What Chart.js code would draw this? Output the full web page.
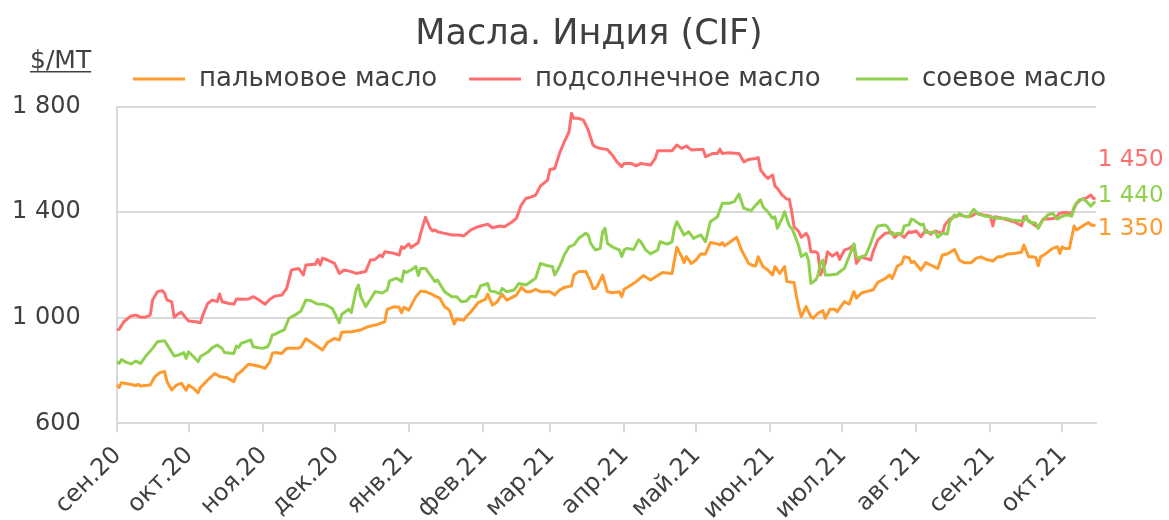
<!DOCTYPE html>
<html lang="ru">
<head>
<meta charset="UTF-8">
<title>Масла. Индия (CIF)</title>
<script src="https://cdn.jsdelivr.net/npm/chart.js"></script>
<style>
  body { margin: 0; background: #fff; }
</style>
</head>
<body>
<canvas id="oilChart" width="1169" height="520"></canvas>
<script>
// x = days since 01.09.2020
const monthStarts = [0, 30, 61, 91, 122, 153, 181, 212, 242, 273, 303, 334, 365, 395];
const monthLabels = ['сен.20', 'окт.20', 'ноя.20', 'дек.20', 'янв.21', 'фев.21', 'мар.21',
                     'апр.21', 'май.21', 'июн.21', 'июл.21', 'авг.21', 'сен.21', 'окт.21'];
const lastDay = 409;

const seriesNames = ['пальмовое масло', 'подсолнечное масло', 'соевое масло'];

const palmDays = [0,1,2,5,8,9,10,14,16,18,20,21,23,25,27,29,30,32,34,35,38,41,43,46,49,50,52,55,57,60,62,64,65,66,
  69,71,76,77,79,81,84,86,88,91,93,94,98,102,105,109,112,113,116,118,119,120,122,125,127,129,132,133,
  135,137,139,141,142,145,146,148,151,154,155,157,159,161,163,167,169,171,173,175,177,181,183,185,187,190,191,193,196,198,199,200,
  201,203,205,207,210,211,212,215,217,220,223,226,228,232,234,236,237,238,240,242,244,246,248,251,252,253,254,256,259,261,264,266,267,
  268,270,272,274,275,277,279,280,283,284,285,286,288,290,291,293,295,296,298,300,301,304,306,308,309,311,313,316,318,321,323,324,326,328,329,331,332,333,
  336,338,340,343,345,347,350,352,354,357,359,361,363,366,368,370,372,375,378,379,381,383,384,385,386,388,391,393,394,395,396,398,400,401,403,406,407,409];
const palmVals = [745,736,754,749,743,748,741,745,777,792,796,758,726,745,752,726,745,733,716,736,764,789,777,773,758,783,796,824,821,815,808,834,865,868,
  865,884,884,890,920,909,890,878,906,922,916,945,947,954,966,975,985,1032,1042,1040,1019,1040,1029,1080,1101,1099,1088,1082,
  1074,1042,1029,976,995,991,1004,1023,1057,1070,1090,1048,1061,1089,1067,1086,1115,1099,1099,1108,1099,1099,1086,1105,1115,1121,1162,1175,1175,1137,1111,1111,
  1124,1162,1099,1095,1099,1080,1108,1124,1137,1160,1143,1160,1172,1168,1267,1232,1209,1232,1206,1219,1242,1242,1285,1280,1276,1285,1273,1285,1305,1257,1206,1197,1197,
  1231,1194,1181,1162,1194,1168,1194,1137,1134,1080,1036,1004,1042,1004,998,1017,1027,998,1032,1032,1023,1061,1052,1099,1074,1093,1099,1105,1134,1148,1162,1149,1194,1206,1231,1228,1209,1214,
  1181,1209,1200,1187,1238,1242,1259,1219,1209,1209,1225,1231,1222,1215,1231,1231,1242,1244,1248,1276,1231,1231,1228,1197,1231,1242,1263,1269,1244,1269,1263,1263,1348,1333,1345,1361,1352,1350];

const sunDays = [0,1,3,6,8,10,12,14,15,17,19,20,21,23,24,26,27,29,30,33,35,36,38,40,42,43,44,47,49,50,52,55,57,59,62,64,66,
  69,71,73,76,77,78,79,83,84,85,86,88,91,93,95,98,100,104,106,108,110,111,112,115,118,119,120,122,123,126,127,129,131,132,133,
  134,137,140,143,145,148,151,155,157,160,162,165,167,169,171,173,175,177,180,181,183,185,187,189,190,191,193,195,197,199,200,
  202,205,207,209,211,212,215,217,219,223,225,226,232,234,236,238,240,243,245,246,249,251,252,253,255,260,262,264,267,
  268,269,271,272,274,275,276,278,280,281,282,283,285,286,288,289,290,292,293,294,296,297,299,301,302,304,306,308,309,311,315,316,318,321,324,325,327,329,331,332,333,
  334,336,338,340,342,345,346,348,350,352,355,357,359,362,365,366,367,370,372,375,378,379,382,385,387,389,392,394,396,399,401,403,405,407,408,409];
const sunVals = [954,956,985,1007,1010,1002,1002,1010,1067,1099,1103,1093,1067,1061,1002,1017,1021,998,988,985,981,1010,1054,1067,1061,1090,1061,1054,1052,1071,1070,1071,1080,1070,1051,1070,1082,
  1086,1111,1181,1187,1175,1162,1200,1203,1221,1200,1226,1219,1206,1168,1181,1175,1168,1175,1219,1221,1238,1231,1250,1246,1238,1269,1263,1280,1266,1285,1320,1381,1339,1329,1333,
  1326,1320,1314,1314,1310,1333,1345,1355,1341,1348,1345,1362,1377,1427,1453,1457,1465,1499,1522,1562,1566,1623,1667,1705,1775,1756,1756,1749,1711,1655,1648,
  1642,1638,1617,1591,1573,1585,1585,1576,1585,1579,1604,1633,1633,1655,1642,1651,1636,1638,1638,1610,1623,1623,1639,1623,1625,1623,1591,1600,1604,
  1607,1560,1537,1528,1541,1499,1490,1465,1450,1449,1402,1345,1326,1305,1320,1305,1250,1250,1244,1162,1206,1250,1234,1246,1221,1256,1263,1276,1206,1231,1219,1250,1295,1320,1323,1305,1320,1305,1326,1323,1326,
  1329,1307,1333,1317,1329,1320,1352,1374,1383,1390,1383,1385,1396,1390,1385,1348,1383,1377,1371,1364,1349,1383,1361,1341,1374,1374,1377,1396,1399,1396,1434,1449,1453,1465,1453,1450];

const soyDays = [0,1,2,4,6,8,10,12,15,17,20,22,24,26,28,29,30,32,34,35,38,40,42,44,45,49,50,51,52,56,57,61,63,64,65,66,
  69,70,72,75,77,79,81,84,87,90,91,93,94,97,98,100,101,102,104,106,108,111,113,114,117,119,120,121,123,125,126,127,129,131,133,
  134,137,140,142,144,146,148,150,152,155,156,158,160,161,163,166,168,171,175,177,180,182,183,185,187,189,191,193,196,197,198,200,
  202,203,204,205,207,210,211,212,213,216,218,219,221,223,226,227,230,232,233,234,237,239,241,244,246,247,248,251,253,256,258,260,261,262,265,267,
  269,270,272,274,275,276,278,279,281,282,283,285,286,288,289,290,292,293,294,295,296,298,301,303,304,306,308,309,310,313,315,317,318,321,322,324,326,328,329,331,332,333,
  334,336,337,338,340,342,343,345,347,348,350,351,352,354,356,358,360,363,365,368,371,374,377,379,380,381,384,385,387,389,391,393,395,397,399,400,402,404,405,407,408,409];
const soyVals = [834,827,842,831,825,836,827,853,884,909,913,884,855,859,868,846,871,853,834,853,869,887,897,884,868,865,893,888,903,916,890,884,890,906,935,937,
  950,954,998,1013,1026,1067,1065,1052,1050,1036,1019,981,1013,1032,1019,1105,1124,1080,1042,1070,1099,1094,1105,1140,1150,1137,1178,1172,1181,1194,1160,1187,1187,1162,1137,
  1143,1099,1080,1080,1061,1063,1082,1080,1121,1130,1101,1099,1090,1111,1099,1105,1130,1124,1150,1206,1197,1194,1162,1194,1238,1269,1276,1301,1320,1314,1282,1257,
  1263,1326,1339,1282,1269,1257,1232,1257,1263,1259,1295,1288,1257,1242,1257,1288,1279,1288,1339,1364,1314,1326,1301,1314,1288,1326,1364,1383,1434,1434,1440,1469,1440,1415,1406,1427,
  1446,1421,1402,1377,1383,1339,1377,1402,1348,1339,1320,1269,1232,1244,1219,1130,1143,1162,1206,1219,1162,1162,1166,1181,1187,1232,1280,1232,1225,1238,1282,1333,1348,1352,1345,1314,1320,1317,1348,1352,1374,1371,
  1364,1352,1355,1323,1323,1326,1305,1320,1317,1364,1390,1383,1396,1385,1383,1411,1393,1385,1383,1377,1377,1371,1368,1368,1385,1364,1358,1339,1371,1390,1396,1374,1385,1390,1385,1421,1446,1449,1443,1423,1434,1440];

const textColor = '#404040';
const gridColor = '#d9d9d9';
const lineColors = ['#ff9a2e', '#ff6e6e', '#8fd14f'];
const fontFamily = "'DejaVu Sans', 'Noto Sans', sans-serif";

Chart.defaults.font.family = fontFamily;
Chart.defaults.color = textColor;

function toPoints(days, vals) {
    return days.map((d, i) => ({ x: d, y: vals[i] }));
}

function spaced(v) {
    return String(v).replace(/\B(?=(\d{3})+(?!\d))/g, ' ');
}

// title, legend, unit caption and end-of-line values
const overlay = {
    id: 'overlay',
    afterDraw(chart) {
        const ctx = chart.ctx;
        const area = chart.chartArea;
        ctx.save();
        ctx.textBaseline = 'alphabetic';

        ctx.font = '35px ' + fontFamily;
        ctx.fillStyle = textColor;
        ctx.textAlign = 'center';
        ctx.fillText('Масла. Индия (CIF)', 589, 44);

        ctx.textAlign = 'left';
        ctx.font = '25px ' + fontFamily;
        ctx.fillText('$/MT', 30, 68);
        ctx.fillRect(30, 71, ctx.measureText('$/MT').width, 1.5);

        const legendX = [133, 469, 856];
        ctx.font = '26px ' + fontFamily;
        seriesNames.forEach((name, i) => {
            ctx.fillStyle = lineColors[i];
            ctx.fillRect(legendX[i], 77.5, 52, 3);
            ctx.fillStyle = textColor;
            ctx.fillText(name, legendX[i] + 66, 86);
        });

        const shift = [10, -33, 0];
        ctx.font = '23px ' + fontFamily;
        chart.data.datasets.forEach((ds, i) => {
            const pts = chart.getDatasetMeta(i).data;
            const last = pts[pts.length - 1];
            ctx.fillStyle = lineColors[i];
            ctx.fillText(spaced(ds.data[ds.data.length - 1].y), area.right + 2, last.y + shift[i]);
        });
        ctx.restore();
    }
};

new Chart(document.getElementById('oilChart'), {
    type: 'line',
    data: {
        datasets: [
            { label: seriesNames[0], data: toPoints(palmDays, palmVals), borderColor: lineColors[0], order: 2 },
            { label: seriesNames[1], data: toPoints(sunDays, sunVals), borderColor: lineColors[1], order: 1 },
            { label: seriesNames[2], data: toPoints(soyDays, soyVals), borderColor: lineColors[2], order: 0 }
        ]
    },
    options: {
        responsive: false,
        animation: false,
        devicePixelRatio: 1,
        layout: { padding: { left: 0, right: 73.3, top: 106.7, bottom: 0 } },
        elements: {
            line: { borderWidth: 3, tension: 0, borderJoinStyle: 'round' },
            point: { radius: 0 }
        },
        plugins: {
            legend: { display: false },
            tooltip: { enabled: false },
            title: { display: false }
        },
        scales: {
            x: {
                type: 'linear',
                min: 0,
                max: lastDay,
                afterBuildTicks: (scale) => {
                    scale.ticks = monthStarts.map(v => ({ value: v }));
                },
                afterFit: (scale) => { scale.height = 96.7; },
                ticks: {
                    autoSkip: false,
                    maxRotation: 45,
                    minRotation: 45,
                    padding: 9,
                    labelOffset: 1,
                    font: { size: 24 },
                    callback: (v) => monthLabels[monthStarts.indexOf(v)]
                },
                grid: { drawOnChartArea: false, color: gridColor, lineWidth: 2, tickLength: 9 },
                border: { color: gridColor, width: 2 }
            },
            y: {
                min: 600,
                max: 1800,
                afterFit: (scale) => { scale.width = 116.7; },
                ticks: {
                    stepSize: 400,
                    padding: 36,
                    font: { size: 24 },
                    callback: (v) => spaced(v)
                },
                grid: { color: gridColor, lineWidth: 2, drawTicks: false },
                border: { color: gridColor, width: 2 }
            }
        }
    },
    plugins: [overlay]
});
</script>
</body>
</html>
